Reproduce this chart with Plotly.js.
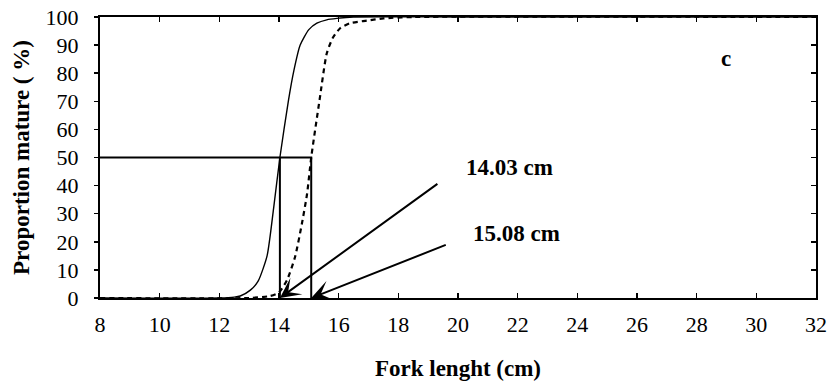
<!DOCTYPE html>
<html>
<head>
<meta charset="utf-8">
<script src="https://cdn.plot.ly/plotly-3.0.1.min.js"></script>
<style>html,body{margin:0;padding:0;background:#fff;}#chart{width:829px;height:381px;}</style>
</head>
<body>
<div id="chart"></div>
<script>
// Fork length (cm) and proportion mature (%)
var solidX = [8, 12, 12.5, 12.7, 13.04, 13.3, 13.6, 13.82, 14.03, 14.32, 14.5, 14.71, 15.0, 15.27, 15.6, 15.94, 16.5, 20, 32];
var solidY = [0, 0, 0.3, 0.7, 2.8, 6, 15, 32, 50, 70.5, 81, 90, 95.5, 97.8, 99, 99.5, 100, 100, 100];
var dashX = [8, 13, 13.7, 14.0, 14.27, 14.54, 14.77, 14.94, 15.08, 15.36, 15.6, 15.8, 16.05, 16.38, 16.94, 17.5, 18.5, 32];
var dashY = [0, 0, 0.7, 2, 6.4, 14.7, 26.6, 37, 50, 70.5, 87, 92.5, 96, 97.8, 98.7, 99.5, 100, 100];
// L50 values (cm) and the 50% level
var l50 = [14.03, 15.08];
var halfLevel = 50;
var l50Labels = ['14.03 cm', '15.08 cm'];
// arrow tails and label positions (data units)
var arrowTailX = [19.36, 19.64];
var arrowTailY = [41, 19.1];
var labelX = [21.74, 21.95];
var labelY = [46.6, 23.0];
var panelLabel = 'c';

var serif = '"Liberation Serif", "Times New Roman", serif';

var traces = [
  {x: solidX, y: solidY, mode: 'lines', line: {color: '#000', width: 1.4, shape: 'spline', smoothing: 0.6}, hoverinfo: 'skip'},
  {x: dashX, y: dashY, mode: 'lines', line: {color: '#000', width: 2.2, dash: '5px,4px', shape: 'spline', smoothing: 0.6}, hoverinfo: 'skip'},
  {x: [8, l50[1], l50[1]], y: [halfLevel, halfLevel, 0], mode: 'lines', line: {color: '#000', width: 2}, hoverinfo: 'skip'},
  {x: [l50[0], l50[0]], y: [halfLevel, 0], mode: 'lines', line: {color: '#000', width: 2}, hoverinfo: 'skip'},
  {x: [8], y: [0], yaxis: 'y2', mode: 'markers', marker: {opacity: 0}, hoverinfo: 'skip'}
];

var annotations = [];
for (var i = 0; i < l50.length; i++) {
  annotations.push({
    x: l50[i], y: 0, xref: 'x', yref: 'y',
    ax: arrowTailX[i], ay: arrowTailY[i], axref: 'x', ayref: 'y',
    showarrow: true, arrowhead: 3, arrowsize: 1.7, arrowwidth: 2, arrowcolor: '#000',
    standoff: 0, text: ''
  });
  annotations.push({
    x: labelX[i], y: labelY[i], xref: 'x', yref: 'y', showarrow: false,
    text: '<b>' + l50Labels[i] + '</b>', font: {family: serif, size: 23, color: '#000'}
  });
}
annotations.push({
  x: 28.99, y: 85.3, xref: 'x', yref: 'y', showarrow: false,
  text: '<b>' + panelLabel + '</b>', font: {family: serif, size: 23, color: '#000'}
});

var layout = {
  width: 829, height: 381,
  margin: {l: 99.5, r: 13, t: 17, b: 83, pad: 0},
  paper_bgcolor: '#fff', plot_bgcolor: '#fff',
  showlegend: false,
  font: {family: serif, color: '#000'},
  xaxis: {
    range: [8, 32], dtick: 2, tick0: 8, showgrid: false, zeroline: false,
    showline: true, linewidth: 2, linecolor: '#000', mirror: 'ticks',
    ticks: 'inside', ticklen: 5, tickwidth: 1.5, tickcolor: '#000',
    tickfont: {family: serif, size: 22, color: '#000'}, ticklabelstandoff: 6,
    title: {text: '<b>Fork lenght (cm)</b>', font: {family: serif, size: 23, color: '#000'}, standoff: 24}
  },
  yaxis: {
    range: [0, 100], dtick: 10, showgrid: false, zeroline: false,
    showline: true, linewidth: 2, linecolor: '#000',
    ticks: 'outside', ticklen: 4, tickwidth: 1.5, tickcolor: '#000',
    tickfont: {family: serif, size: 22, color: '#000'}, ticklabelstandoff: 11,
    title: {text: '<b>Proportion mature ( %)</b>', font: {family: serif, size: 23, color: '#000'}, standoff: 10}
  },
  yaxis2: {
    overlaying: 'y', side: 'right', range: [0, 100], dtick: 10, showgrid: false, zeroline: false,
    showline: true, linewidth: 2, linecolor: '#000',
    ticks: 'inside', ticklen: 5, tickwidth: 1.5, tickcolor: '#000', showticklabels: false
  },
  annotations: annotations
};

Plotly.newPlot('chart', traces, layout, {staticPlot: true, displayModeBar: false});
</script>
</body>
</html>
